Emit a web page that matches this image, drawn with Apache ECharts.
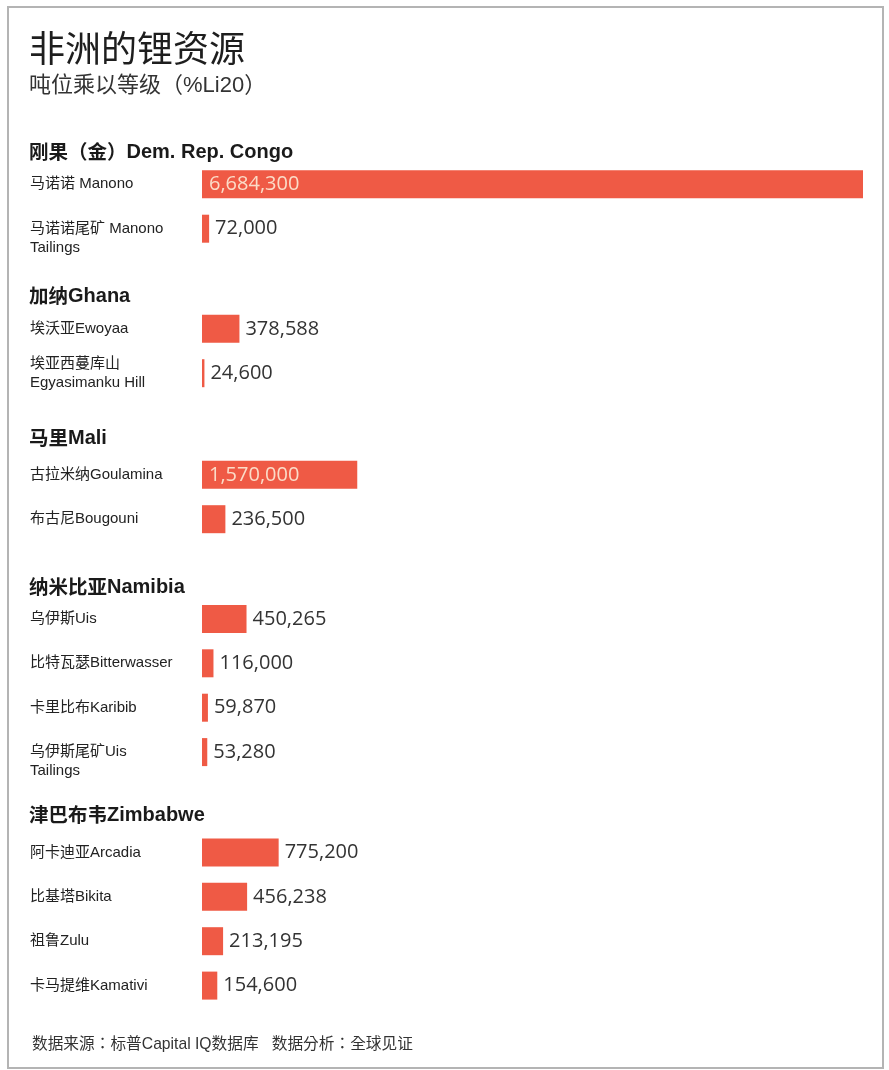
<!DOCTYPE html>
<html>
<head>
<meta charset="utf-8">
<script src="https://cdn.jsdelivr.net/npm/echarts@6/dist/echarts.min.js"></script>
<style>html,body{margin:0;padding:0;background:#fff;}#c{width:889px;height:1070px;}</style>
</head>
<body>
<div id="c"></div>
<script>
// ---- data ----
const titleText = '非洲的锂资源';
const subtitleText = '吨位乘以等级（%Li20）';
const sourceText = '数据来源：标普Capital IQ数据库   数据分析：全球见证';

const groupNamesCn = ['刚果（金）', '加纳', '马里', '纳米比亚', '津巴布韦'];
const groupNamesEn = ['Dem. Rep. Congo', 'Ghana', 'Mali', 'Namibia', 'Zimbabwe'];

const congoSites = ['马诺诺 Manono', '马诺诺尾矿 Manono\nTailings'];
const congoValues = [6684300, 72000];
const ghanaSites = ['埃沃亚Ewoyaa', '埃亚西蔓库山\nEgyasimanku Hill'];
const ghanaValues = [378588, 24600];
const maliSites = ['古拉米纳Goulamina', '布古尼Bougouni'];
const maliValues = [1570000, 236500];
const namibiaSites = ['乌伊斯Uis', '比特瓦瑟Bitterwasser', '卡里比布Karibib', '乌伊斯尾矿Uis\nTailings'];
const namibiaValues = [450265, 116000, 59870, 53280];
const zimbabweSites = ['阿卡迪亚Arcadia', '比基塔Bikita', '祖鲁Zulu', '卡马提维Kamativi'];
const zimbabweValues = [775200, 456238, 213195, 154600];

const groupSites = [congoSites, ghanaSites, maliSites, namibiaSites, zimbabweSites];
const groupValues = [congoValues, ghanaValues, maliValues, namibiaValues, zimbabweValues];

// ---- layout ----
const slot = 44.4;
const gridLeft = 202;
const gridWidth = 661;
const gridCenters = [206.5, 351, 497, 685.5, 919];
const headerY = [152, 296, 438, 587, 815];
const barColor = '#ef5a45';
const xMax = Math.max(...groupValues.flat());

const latin = '"Liberation Sans", Arial, "Noto Sans CJK SC", sans-serif';
const latinTC = '"Liberation Sans", Arial, "Noto Sans CJK TC", sans-serif';
const numFont = '"Open Sans", "Noto Sans", sans-serif';

const grids = [], xAxes = [], yAxes = [], series = [], graphics = [];

groupSites.forEach((sites, i) => {
  const h = sites.length * slot;
  grids.push({ left: gridLeft, width: gridWidth, top: gridCenters[i] - h / 2, height: h, containLabel: false });
  xAxes.push({ type: 'value', gridIndex: i, min: 0, max: xMax, show: false });
  yAxes.push({
    type: 'category', gridIndex: i, inverse: true, data: sites,
    axisLine: { show: false }, axisTick: { show: false }, splitLine: { show: false },
    axisLabel: {
      interval: 0, hideOverlap: false,
      align: 'left', margin: gridLeft - 30, fontSize: 15, lineHeight: 19,
      color: '#222', fontFamily: latin, padding: [8, 0, 0, 0],
      formatter: v => (v.indexOf('Tailings') >= 0 ? '\n' + v : v)
    }
  });
  series.push({
    type: 'bar', xAxisIndex: i, yAxisIndex: i, barWidth: 28,
    itemStyle: { color: barColor },
    data: groupValues[i].map(v => {
      const inside = v > 1000000;
      return {
        value: v,
        label: {
          show: true,
          position: inside ? 'insideLeft' : 'right',
          distance: inside ? 7 : 6,
          color: inside ? '#fbdcc8' : '#333',
          fontSize: 20, fontFamily: numFont,
          formatter: p => p.value.toLocaleString('en-US')
        }
      };
    })
  });
  graphics.push({
    type: 'text', x: 29, y: headerY[i],
    style: {
      text: '{cn|' + groupNamesCn[i] + '}{en|' + groupNamesEn[i] + '}',
      verticalAlign: 'middle',
      rich: {
        cn: { fontSize: 19.5, fontWeight: 'bold', fill: '#1a1a1a', fontFamily: '"Noto Sans CJK SC", sans-serif', verticalAlign: 'middle' },
        en: { fontSize: 20, fontWeight: 'bold', fill: '#1a1a1a', fontFamily: latin, verticalAlign: 'middle' }
      }
    }
  });
});

graphics.push(
  { type: 'rect', shape: { x: 8, y: 7, width: 875, height: 1061 }, style: { fill: 'none', stroke: '#b4b4b4', lineWidth: 2 }, z: -1 },
  { type: 'text', x: 29, y: 48, style: { text: titleText, fontSize: 36, fill: '#1e1e1e', fontFamily: '"Noto Sans CJK SC", sans-serif', verticalAlign: 'middle' } },
  { type: 'text', x: 29, y: 86, style: { text: subtitleText, fontSize: 22, fill: '#333', fontFamily: latin, verticalAlign: 'middle' } },
  { type: 'text', x: 32, y: 1045, style: { text: sourceText, fontSize: 15.7, fill: '#333', fontFamily: latinTC, verticalAlign: 'middle' } }
);

const chart = echarts.init(document.getElementById('c'));
chart.setOption({
  backgroundColor: '#fff',
  animation: false,
  grid: grids, xAxis: xAxes, yAxis: yAxes, series: series,
  graphic: graphics
});
</script>
</body>
</html>
